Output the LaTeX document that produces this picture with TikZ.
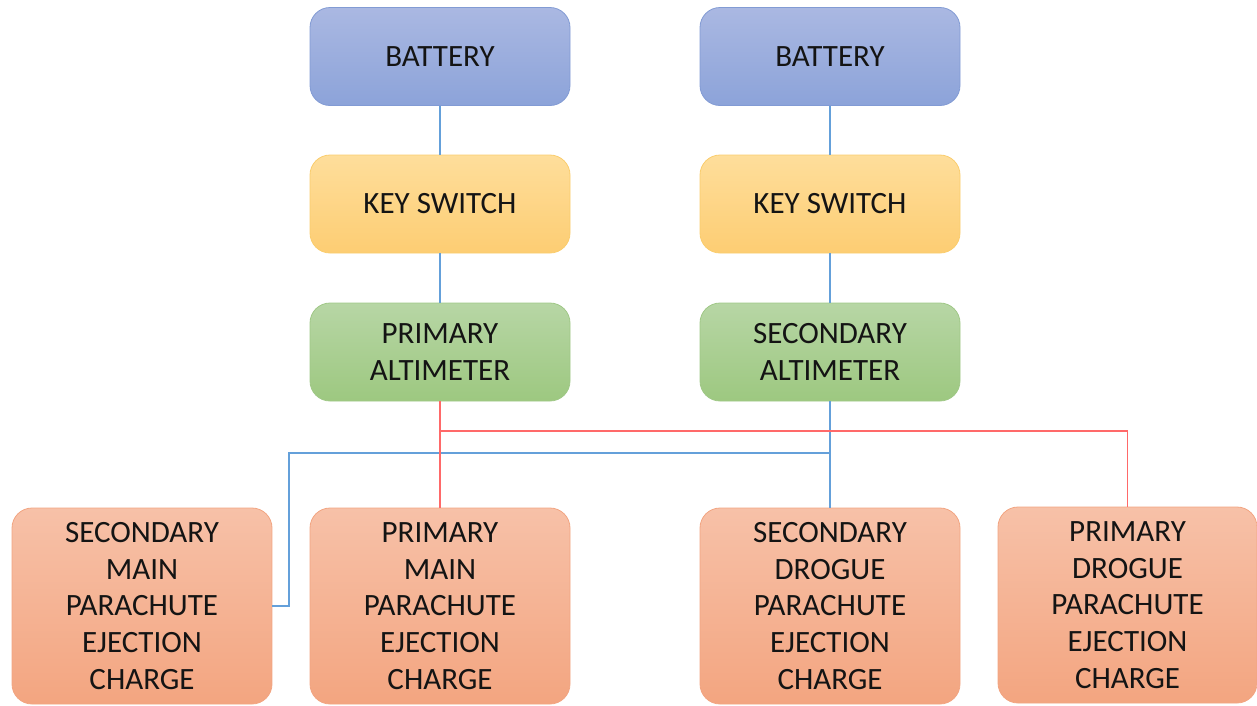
\documentclass[tikz,border=0pt]{standalone}
\usepackage{fontspec}
\setmainfont{Carlito}
\usetikzlibrary{shadings}
\definecolor{batT}{RGB}{170,184,226}
\definecolor{batB}{RGB}{140,163,217}
\definecolor{batD}{RGB}{130,155,212}
\definecolor{keyT}{RGB}{254,222,155}
\definecolor{keyB}{RGB}{253,205,115}
\definecolor{keyD}{RGB}{250,205,110}
\definecolor{altT}{RGB}{183,214,165}
\definecolor{altB}{RGB}{157,200,128}
\definecolor{altD}{RGB}{160,200,135}
\definecolor{chT}{RGB}{247,193,168}
\definecolor{chB}{RGB}{243,165,128}
\definecolor{chD}{RGB}{242,165,130}
\definecolor{wireB}{RGB}{100,160,218}
\definecolor{wireR}{RGB}{255,105,105}
\tikzset{
  box/.style={rounded corners=20pt, minimum width=260pt, minimum height=98pt,
    align=center, inner sep=0pt, line width=0.8pt,
    font=\fontsize{31}{36.6}\selectfont, text=black!92},
  batbox/.style={box, draw=batD, top color=batT, bottom color=batB},
  keybox/.style={box, draw=keyD, top color=keyT, bottom color=keyB},
  altbox/.style={box, draw=altD, top color=altT, bottom color=altB},
  chbox/.style={box, minimum height=196pt, draw=chD, top color=chT, bottom color=chB},
  bwire/.style={draw=wireB, line width=1.5pt},
  rwire/.style={draw=wireR, line width=1.5pt}
}
\begin{document}
\begin{tikzpicture}[x=1pt,y=-1pt]
\useasboundingbox (0,0) rectangle (1257,705);
\node[batbox] (batL) at (440,56.5) {BATTERY};
\node[batbox] (batR) at (830,56.5) {BATTERY};
\node[keybox] (keyL) at (440,204) {KEY SWITCH};
\node[keybox] (keyR) at (830,204) {KEY SWITCH};
\node[altbox] (altL) at (440,352) {PRIMARY\\ALTIMETER};
\node[altbox] (altR) at (830,352) {SECONDARY\\ALTIMETER};
\node[chbox] (smain) at (142,606) {SECONDARY\\MAIN\\PARACHUTE\\EJECTION\\CHARGE};
\node[chbox] (pmain) at (440,606) {PRIMARY\\MAIN\\PARACHUTE\\EJECTION\\CHARGE};
\node[chbox] (sdrog) at (830,606) {SECONDARY\\DROGUE\\PARACHUTE\\EJECTION\\CHARGE};
\node[chbox, minimum width=259pt] (pdrog) at (1127.5,605) {PRIMARY\\DROGUE\\PARACHUTE\\EJECTION\\CHARGE};
\coordinate (r1) at (440,431);
\coordinate (b1) at (830,453);
\coordinate (b2) at (289,453);
\draw[bwire] (batL) -- (keyL);
\draw[bwire] (keyL) -- (altL);
\draw[bwire] (batR) -- (keyR);
\draw[bwire] (keyR) -- (altR);
\draw[bwire] (b1) -- (b2) |- (smain.east);
\draw[bwire] (altR) -- (sdrog);
\draw[rwire] (altL) -- (pmain);
\draw[rwire] (r1) -| (pdrog.north);
\end{tikzpicture}
\end{document}
